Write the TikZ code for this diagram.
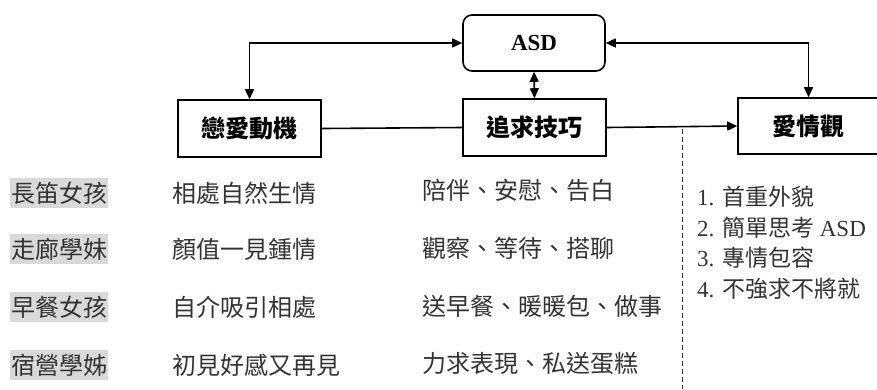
\documentclass[tikz,border=0pt]{standalone}
\usepackage{fontspec}
\setmainfont{Liberation Serif}
\newfontfamily\cj{Noto Sans CJK TC}
\usetikzlibrary{arrows.meta}
\definecolor{txtc}{HTML}{333333}
\definecolor{labc}{HTML}{D9D9D9}
\tikzset{
  boxnode/.style={draw=black, line width=1.6pt, minimum width=143pt, minimum height=57pt, inner sep=0pt,
    font={\cj\bfseries\fontsize{24pt}{28pt}\selectfont}},
  tip/.tip={Triangle[length=10pt,width=9pt]},
  link/.style={line width=1.6pt},
  labnode/.style={fill=labc, text=txtc, minimum width=98pt, minimum height=30pt, inner sep=0pt,
    font={\cj\fontsize{24pt}{26pt}\selectfont}},
  rowtext/.style={anchor=west, text=txtc, inner sep=0pt, font={\cj\fontsize{24pt}{26pt}\selectfont}},
  listtext/.style={anchor=west, text=txtc, inner sep=0pt, font={\fontsize{23pt}{26pt}\selectfont}},
}
\begin{document}
\begin{tikzpicture}[x=1pt,y=-1pt]
\useasboundingbox (0,0) rectangle (877,389);
% main boxes
\node[boxnode, rounded corners=9pt, minimum width=142pt, minimum height=56pt,
  font={\bfseries\fontsize{23pt}{26pt}\selectfont}] (asd) at (534,43) {ASD};
\node[boxnode] (motive) at (249.5,128.5) {戀愛動機};
\node[boxnode] (skill) at (534.5,127.5) {追求技巧};
\node[boxnode, minimum width=141pt, minimum height=56pt] (view) at (808.5,126) {愛情觀};
% connectors
\draw[link, tip-tip] (motive.north) |- (asd.west);
\draw[link, tip-tip] (view.north) |- (asd.east);
\draw[link, tip-tip] (asd.south) -- (skill.north);
\draw[link] (motive.east) -- (skill.west);
\draw[link, -tip] (skill.east) -- (view.west);
% dashed divider
\coordinate (dtop) at (682,129);
\coordinate (dbot) at (682,389);
\draw[txtc, line width=0.8pt, dash pattern=on 5pt off 3pt] (dtop) -- (dbot);
% rows
\node[labnode] (l1) at (59,193) {長笛女孩};
\node[labnode] (l2) at (59,249) {走廊學妹};
\node[labnode] (l3) at (59,307) {早餐女孩};
\node[labnode] (l4) at (59,365) {宿營學姊};
\node[rowtext] (m1) at (172,193) {相處自然生情};
\node[rowtext] (m2) at (172,249) {顏值一見鍾情};
\node[rowtext] (m3) at (172,307) {自介吸引相處};
\node[rowtext] (m4) at (172,365) {初見好感又再見};
\node[rowtext] (s1) at (422,190) {陪伴、安慰、告白};
\node[rowtext] (s2) at (422,248) {觀察、等待、搭聊};
\node[rowtext] (s3) at (422,306) {送早餐、暖暖包、做事};
\node[rowtext] (s4) at (422,364) {力求表現、私送蛋糕};
% list
\node[listtext] (v1) at (697,197) {1. {\cj 首重外貌}};
\node[listtext] (v2) at (697,228) {2. {\cj 簡單思考} ASD};
\node[listtext] (v3) at (697,258) {3. {\cj 專情包容}};
\node[listtext] (v4) at (697,289) {4. {\cj 不強求不將就}};
\end{tikzpicture}
\end{document}
